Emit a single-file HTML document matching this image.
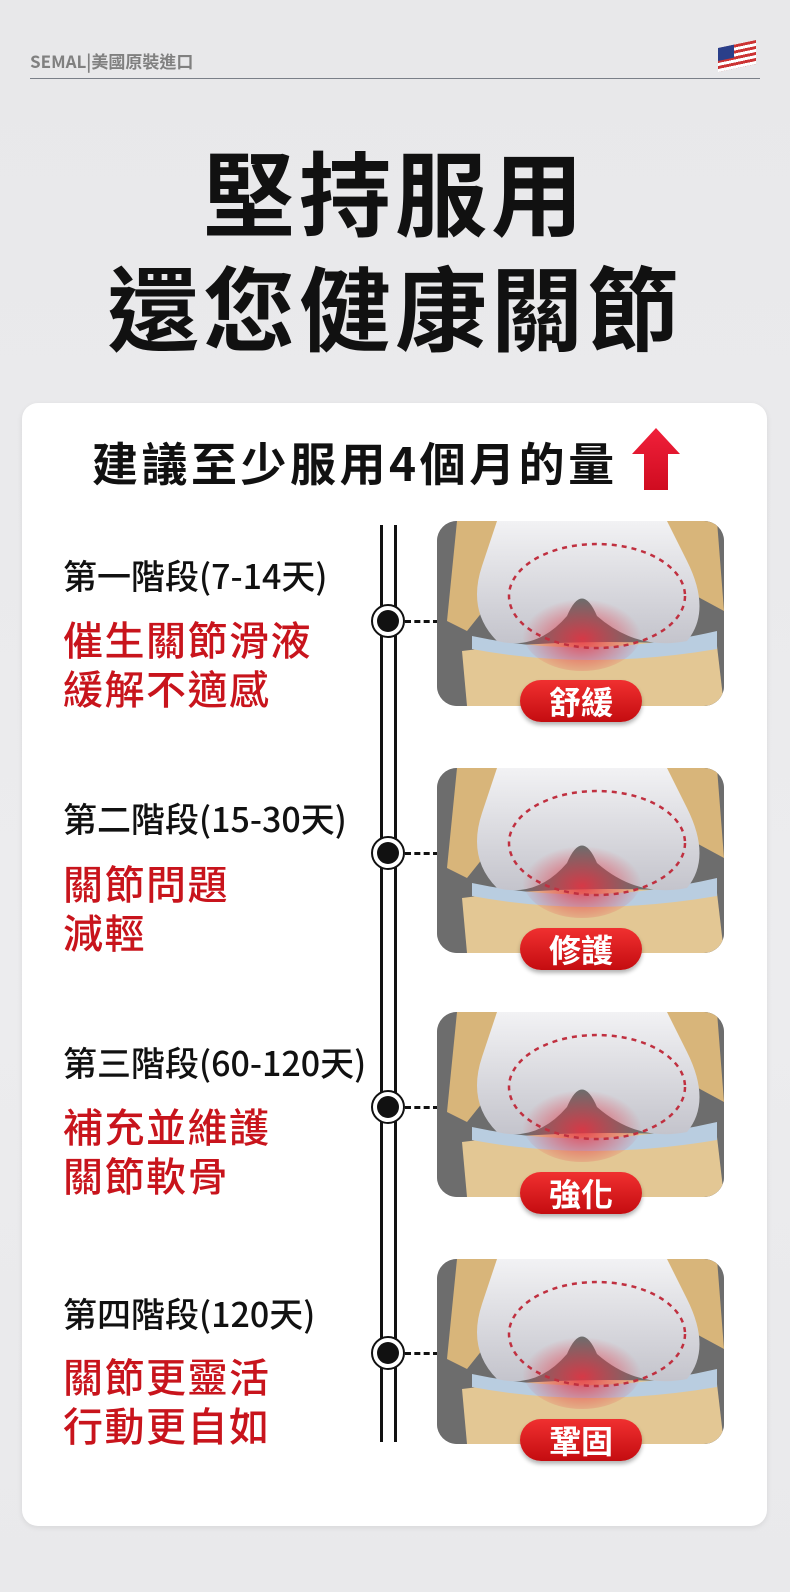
<!DOCTYPE html>
<html><head><meta charset="utf-8"><style>
*{margin:0;padding:0;box-sizing:border-box}
body{width:790px;height:1592px;background:linear-gradient(#e8e8ea,#ececee 60%,#e9e9eb);position:relative;overflow:hidden;font-family:"Noto Sans CJK TC","Liberation Sans",sans-serif}
.a{position:absolute;white-space:nowrap}
.t{font-weight:700;font-size:92px;color:#111;left:0;width:790px;text-align:center;letter-spacing:4px}
.card{left:22px;top:403px;width:745px;height:1123px;background:#fff;border-radius:16px;box-shadow:0 2px 6px rgba(0,0,0,.08)}
.st{left:63px;font-size:34px;color:#111;font-weight:500;line-height:44px}
.rd{left:63px;font-size:40px;color:#c8141c;font-weight:500;letter-spacing:1.5px;line-height:48px}
.ln{top:525px;width:3px;height:917px;background:#111}
.dot{width:34px;height:34px;border:2px solid #111;border-radius:50%;background:#fff}
.dot:after{content:"";position:absolute;left:4px;top:4px;width:22px;height:22px;border-radius:50%;background:#111}
.dash{width:34px;border-top:3px dashed #111}
.img{left:437px;width:287px;height:185px;border-radius:20px;overflow:hidden;background:#6d6d6d}
.bd{width:122px;height:42px;border-radius:21px;background:linear-gradient(#f03030,#c40c10);color:#fff;font-size:32px;font-weight:700;text-align:center;line-height:42px;left:520px;box-shadow:0 3px 4px rgba(0,0,0,.3)}
</style></head><body>
<div class="a" style="left:30px;top:48px;font-size:17px;color:#808080;font-weight:700">SEMAL|美國原裝進口</div>
<div class="a" style="left:718px;top:44px;width:38px;height:24px;background:repeating-linear-gradient(#c33 0 3px,#fff 3px 6px);transform:skewY(-12deg)"><div style="width:16px;height:13px;background:#2a3f8a"></div></div>
<div class="a" style="left:30px;top:78px;width:730px;height:1px;background:#7a7f88"></div>
<div class="a t" style="top:130px;line-height:120px">堅持服用</div>
<div class="a t" style="top:245px;line-height:120px">還您健康關節</div>
<div class="a card"></div>
<div class="a" style="left:92px;top:434px;font-size:46px;line-height:56px;font-weight:700;color:#111;letter-spacing:3.5px">建議至少服用4個月的量</div>
<svg class="a" style="left:630px;top:426px" width="52" height="68"><defs><linearGradient id="ag" x1="0" y1="0" x2="0" y2="1"><stop offset="0" stop-color="#f0203a"/><stop offset="1" stop-color="#d00c20"/></linearGradient></defs><path d="M26 2 L50 28 L38 28 L38 64 L14 64 L14 28 L2 28Z" fill="url(#ag)"/></svg>
<div class="a ln" style="left:380px"></div><div class="a ln" style="left:394px"></div>

<div class="a st" style="top:553px">第一階段(7-14天)</div>
<div class="a rd" style="top:614px">催生關節滑液</div><div class="a rd" style="top:663px">緩解不適感</div>
<div class="a st" style="top:796px">第二階段(15-30天)</div>
<div class="a rd" style="top:858px">關節問題</div><div class="a rd" style="top:907px">減輕</div>
<div class="a st" style="top:1040px">第三階段(60-120天)</div>
<div class="a rd" style="top:1101px">補充並維護</div><div class="a rd" style="top:1150px">關節軟骨</div>
<div class="a st" style="top:1291px">第四階段(120天)</div>
<div class="a rd" style="top:1351px">關節更靈活</div><div class="a rd" style="top:1400px">行動更自如</div>

<div class="a dot" style="left:371px;top:604px"></div><div class="a dash" style="left:405px;top:620px"></div>
<div class="a dot" style="left:371px;top:836px"></div><div class="a dash" style="left:405px;top:852px"></div>
<div class="a dot" style="left:371px;top:1090px"></div><div class="a dash" style="left:405px;top:1106px"></div>
<div class="a dot" style="left:371px;top:1336px"></div><div class="a dash" style="left:405px;top:1352px"></div>

<svg width="0" height="0" style="position:absolute"><defs>
<radialGradient id="rg" cx=".5" cy=".6" r=".5"><stop offset="0" stop-color="#e83040" stop-opacity=".85"/><stop offset="1" stop-color="#e83040" stop-opacity="0"/></radialGradient>
<linearGradient id="wg" x1="0" y1="0" x2="0" y2="1"><stop offset="0" stop-color="#f2f2f4"/><stop offset="1" stop-color="#c4c4cc"/></linearGradient>
<g id="k"><rect width="287" height="185" fill="#6d6d6d"/>
<path d="M20 0 L90 0 L70 60 L30 110 L10 100Z" fill="#d8b57a"/><path d="M215 0 L280 0 L287 90 L250 70Z" fill="#d8b57a"/>
<path d="M25 130 Q140 115 280 125 L287 185 L30 185Z" fill="#e3c794"/>
<path d="M35 115 Q150 140 280 110 L280 128 Q150 150 35 128Z" fill="#b9cde0"/>
<path d="M60 0 L230 0 L250 40 Q275 90 250 120 Q200 130 160 95 Q145 60 130 95 Q100 130 60 120 Q30 90 45 45Z" fill="url(#wg)"/>
<ellipse cx="145" cy="110" rx="60" ry="40" fill="url(#rg)"/>
<ellipse cx="160" cy="75" rx="88" ry="52" fill="none" stroke="#c03040" stroke-width="2.5" stroke-dasharray="5 5"/></g></defs></svg>
<svg class="a img" style="top:521px"><use href="#k"/></svg>
<svg class="a img" style="top:768px"><use href="#k"/></svg>
<svg class="a img" style="top:1012px"><use href="#k"/></svg>
<svg class="a img" style="top:1259px"><use href="#k"/></svg>
<div class="a bd" style="top:680px">舒緩</div>
<div class="a bd" style="top:928px">修護</div>
<div class="a bd" style="top:1172px">強化</div>
<div class="a bd" style="top:1419px">鞏固</div>
</body></html>
